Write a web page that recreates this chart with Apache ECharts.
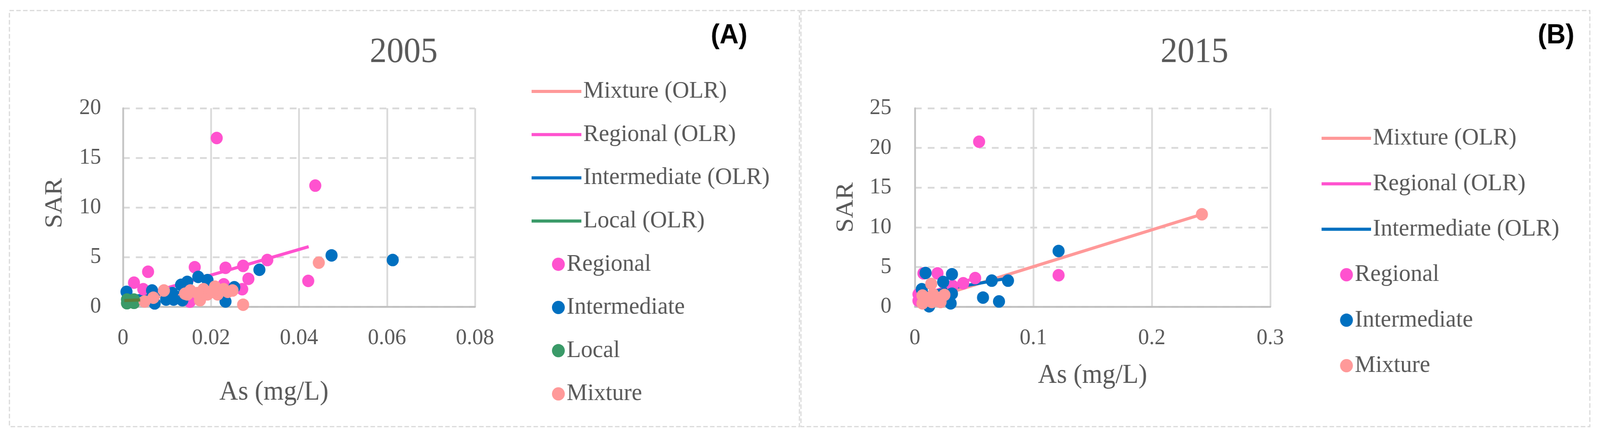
<!DOCTYPE html>
<html>
<head>
<meta charset="utf-8">
<script src="https://cdn.jsdelivr.net/npm/echarts@6/dist/echarts.min.js"></script>
<style>
html,body{margin:0;padding:0;background:#fff;overflow:hidden;width:100%;height:100%;}
#chart{width:4241px;height:1116px;transform-origin:0 0;}
</style>
</head>
<body>
<div id="chart"></div>
<script>
// ---------- DATA ----------
// Panel A: 2005   [As (mg/L), SAR]
var reg05 = [[0.0213,17.0],[0.0437,12.2],[0.0421,2.6],[0.0025,2.42],[0.0057,3.52],[0.0046,1.76],[0.0163,3.98],[0.0233,3.92],[0.0273,4.11],[0.0328,4.70],[0.0285,2.81],[0.0271,1.76],[0.0152,0.5],[0.0229,2.25]];
var int05 = [[0.0474,5.17],[0.0613,4.7],[0.0310,3.72],[0.0233,0.52],[0.0008,1.50],[0.0066,1.63],[0.0132,2.2],[0.0146,2.5],[0.0171,3.0],[0.0192,2.68],[0.0253,1.96],[0.0098,0.72],[0.0115,0.72],[0.0072,0.33],[0.0135,0.65],[0.0112,1.37]];
var loc05 = [[0.0009,0.72],[0.0025,0.72],[0.0009,0.35],[0.0025,0.39],[0.0017,0.55]];
var mix05 = [[0.0445,4.44],[0.0273,0.20],[0.0093,1.63],[0.0069,0.91],[0.0049,0.52],[0.0175,0.65],[0.0141,1.31],[0.0153,1.63],[0.0183,1.76],[0.0209,2.02],[0.0215,1.24],[0.0192,1.24],[0.0249,1.63],[0.0169,1.37],[0.0229,1.76],[0.0146,1.24],[0.0203,1.5],[0.0238,1.5]];
var regLine05 = [[0.0025,0.92],[0.0422,6.05]];
var intLine05 = [[0.0008,1.0],[0.0252,1.9]];
var locLine05 = [[0.0003,0.62],[0.0039,0.68]];
var mixLine05 = [[0.0049,0.9],[0.0249,1.6]];

// Panel B: 2015
var reg15 = [[0.0542,20.78],[0.1213,3.96],[0.0509,3.6],[0.0408,2.95],[0.0191,4.2],[0.0318,2.62],[0.0072,4.2],[0.003,1.56],[0.003,0.75]];
var int15 = [[0.1213,7.01],[0.0090,4.25],[0.0313,4.09],[0.0239,3.11],[0.0649,3.28],[0.0786,3.28],[0.0575,1.15],[0.0710,0.66],[0.0302,0.42],[0.0313,1.64],[0.0058,2.2],[0.012,0.05]];
var mix15 = [[0.2423,11.64],[0.0138,2.87],[0.0064,1.4],[0.0064,0.42],[0.0143,0.59],[0.0217,0.59],[0.0249,1.48],[0.0154,1.56],[0.0100,1.0]];
var mixLine15 = [[0.003,0.55],[0.2423,11.64]];
var intLine15 = [[0.003,1.6],[0.079,3.6]];
var regLine15 = [[0.002,1.3],[0.0509,3.6]];

// axes / ticks
var xTicksA = {min:0, max:0.08, interval:0.02};
var yTicksA = {min:0, max:20, interval:5};
var xTicksB = {min:0, max:0.3, interval:0.1};
var yTicksB = {min:0, max:25, interval:5};

var legendA = ['Mixture (OLR)','Regional (OLR)','Intermediate (OLR)','Local (OLR)','Regional','Intermediate','Local','Mixture'];
var legendB = ['Mixture (OLR)','Regional (OLR)','Intermediate (OLR)','Regional','Intermediate','Mixture'];

// ---------- STYLE ----------
var C = {reg:'#FF52CF', int:'#0070C0', loc:'#3A9A68', locLine:'#5B7F3A', mix:'#FF9999', text:'#595959'};
var colorOf = {
  'Mixture (OLR)':C.mix,'Regional (OLR)':C.reg,'Intermediate (OLR)':C.int,'Local (OLR)':C.loc,
  'Regional':C.reg,'Intermediate':C.int,'Local':C.loc,'Mixture':C.mix
};
var SERIF = 'Liberation Serif';

function xAxis(grid, t, nameGap, padding){
  return {type:'value', gridIndex:grid, min:t.min, max:t.max, interval:t.interval,
    name:'As (mg/L)', nameLocation:'middle', nameGap:nameGap,
    nameTextStyle:{fontFamily:SERIF, fontSize:69, color:C.text, padding:padding},
    axisLine:{show:true, lineStyle:{color:'#bfbfbf', width:4.5}},
    axisTick:{show:false},
    axisLabel:{fontFamily:SERIF, fontSize:58, color:C.text, margin:52},
    splitLine:{show:true, lineStyle:{color:'#d9d9d9', width:4.5, type:'solid'}}
  };
}
function yAxis(grid, t, nameGap, labelMargin, padding){
  return {type:'value', gridIndex:grid, min:t.min, max:t.max, interval:t.interval,
    name:'SAR', nameLocation:'middle', nameGap:nameGap,
    nameTextStyle:{fontFamily:SERIF, fontSize:66, color:C.text, padding:padding},
    axisLine:{show:true, lineStyle:{color:'#c4c4c4', width:4.5}},
    axisTick:{show:false},
    axisLabel:{fontFamily:SERIF, fontSize:58, color:C.text, margin:labelMargin},
    splitLine:{show:true, lineStyle:{color:'#d9d9d9', width:4.5, type:[18,16]}}
  };
}
function scatter(name, data, ax){
  return {type:'scatter', name:name, data:data, xAxisIndex:ax, yAxisIndex:ax,
    symbol:'circle', symbolSize:32, itemStyle:{color:colorOf[name], opacity:1}, z:2};
}
function line(name, data, ax, color, z){
  return {type:'line', name:name, data:data, xAxisIndex:ax, yAxisIndex:ax,
    symbol:'none', showSymbol:false, silent:true,
    itemStyle:{color:colorOf[name]},
    lineStyle:{color:color || colorOf[name], width:8}, z:z||1};
}

// legends: one component per entry so every row sits where it does in the picture
function legendItems(names, rowTop, rowStep, lineLeft, lineW, lineGap, dotCenter, textLeft){
  return names.map(function(n, i){
    var isLine = n.indexOf('(OLR)') >= 0;
    var cy = rowTop + rowStep*i;
    return {
      orient:'vertical', selectedMode:false, padding:0, itemGap:0,
      left: isLine ? lineLeft : dotCenter - 17,
      top: cy - 31,
      icon: isLine ? 'rect' : 'circle',
      itemWidth: isLine ? lineW : 34,
      itemHeight: isLine ? 8 : 34,
      itemTextGap: isLine ? lineGap : textLeft - (dotCenter + 17),
      textStyle:{fontFamily:SERIF, fontSize:62, lineHeight:62, color:C.text},
      data:[{name:n, itemStyle:{color:colorOf[n], borderWidth:0}}]
    };
  });
}

var option = {
  animation:false,
  backgroundColor:'#ffffff',
  grid:[
    {left:326, top:277, width:933, height:508},
    {left:2425, top:277, width:942, height:508}
  ],
  title:[
    {text:'2005', left:980, top:90, padding:0, textStyle:{fontFamily:SERIF, fontSize:90, lineHeight:90, fontWeight:'normal', color:C.text}},
    {text:'2015', left:3076, top:90, padding:0, textStyle:{fontFamily:SERIF, fontSize:90, lineHeight:90, fontWeight:'normal', color:C.text}},
    {text:'(A)', left:1884, top:57, padding:0, textStyle:{fontFamily:'Liberation Sans', fontSize:70, lineHeight:70, fontWeight:'bold', color:'#000'}},
    {text:'(B)', left:4076, top:57, padding:0, textStyle:{fontFamily:'Liberation Sans', fontSize:70, lineHeight:70, fontWeight:'bold', color:'#000'}}
  ],
  xAxis:[ xAxis(0, xTicksA, 185, [0,133,0,0]), xAxis(1, xTicksB, 142, 0) ],
  yAxis:[ yAxis(0, yTicksA, 147, 58, [0,0,0,22]), yAxis(1, yTicksB, 149, 62, 0) ],
  legend: legendItems(legendA, 234, 110.6, 1409, 132, 12, 1480, 1553)
          .concat(legendItems(legendB, 354, 116.4, 3503, 131, 7, 3569, 3641)),
  graphic:[
    {type:'rect', silent:true, z:-1, shape:{x:25, y:27, width:2094, height:1065},
      style:{fill:'none', stroke:'#d9d9d9', lineWidth:3, lineDash:[12,6]}},
    {type:'rect', silent:true, z:-1, shape:{x:2123, y:27, width:2091, height:1065},
      style:{fill:'none', stroke:'#d9d9d9', lineWidth:3, lineDash:[12,6]}}
  ],
  series:[
    line('Mixture (OLR)', mixLine05, 0),
    line('Regional (OLR)', regLine05, 0),
    line('Intermediate (OLR)', intLine05, 0),
    scatter('Regional', reg05, 0),
    scatter('Intermediate', int05, 0),
    scatter('Local', loc05, 0),
    line('Local (OLR)', locLine05, 0, C.locLine, 3),
    scatter('Mixture', mix05, 0),

    line('Mixture (OLR)', mixLine15, 1),
    line('Regional (OLR)', regLine15, 1),
    line('Intermediate (OLR)', intLine15, 1),
    scatter('Regional', reg15, 1),
    scatter('Intermediate', int15, 1),
    scatter('Mixture', mix15, 1)
  ]
};

// fit the 4241x1116 design to whatever viewport the page is opened in
var el = document.getElementById('chart');
var vw = document.documentElement.clientWidth || window.innerWidth || 4241;
var vh = document.documentElement.clientHeight || window.innerHeight || 1116;
var sx = vw / 4241, sy = vh / 1116;
if (Math.abs(sx - 1) > 0.002 || Math.abs(sy - 1) > 0.002) {
  el.style.transform = 'scale(' + sx + ',' + sy + ')';
}
var chart = echarts.init(el, null, {renderer:'canvas'});
chart.setOption(option);
</script>
</body>
</html>
